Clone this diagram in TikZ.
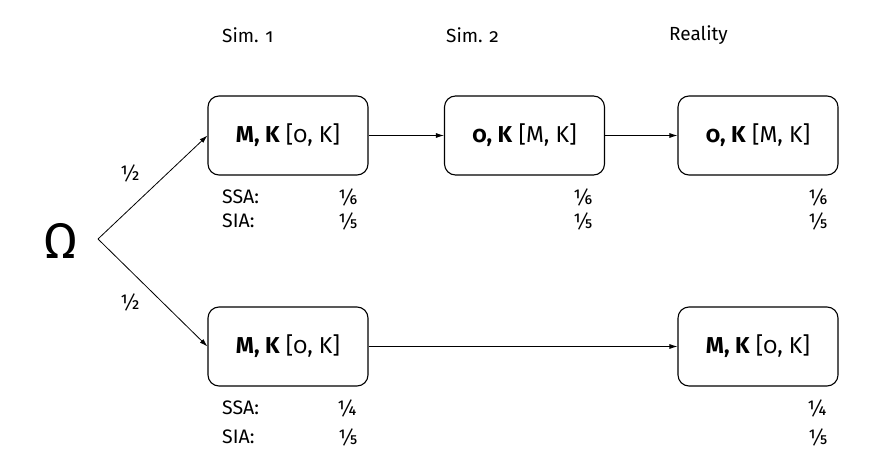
\documentclass[tikz,border=0pt]{standalone}
\usepackage{fontspec}
\setmainfont{Fira Sans}[Numbers=OldStyle]
\newfontfamily\fracfont{Fira Sans}[Fractions=On]
\usetikzlibrary{arrows.meta}
\tikzset{
  box/.style={draw, line width=1.1pt, rounded corners=11pt, minimum width=160pt, minimum height=79pt, font=\fontsize{23}{26}\selectfont, inner sep=0pt},
  lab/.style={font=\fontsize{19.5}{22}\selectfont, anchor=west, inner sep=0pt},
  frc/.style={font=\fracfont\fontsize{21}{24}\selectfont, inner sep=0pt},
  head/.style={font=\fontsize{19}{22}\selectfont, inner sep=0pt},
  conn/.style={line width=0.8pt, -{Latex[length=8pt,width=5pt]}},
}
\begin{document}
\begin{tikzpicture}[x=1pt,y=-1pt]
\useasboundingbox (0,0) rectangle (872,473);
% headers
\node[head, anchor=west] (h1) at (222,35) {Sim. 1};
\node[head, anchor=west] (h2) at (446,35) {Sim. 2};
\node[head, anchor=west] (h3) at (669,35) {Reality};
% omega
\node[inner sep=0pt, font=\fontsize{50}{54}\selectfont] (om) at (61,241) {Ω};
\coordinate (root) at (98,239);
% boxes
\node[box] (b1) at (288,135.5) {\textbf{M, K} [0, K]};
\node[box] (b2) at (524.5,135.5) {\textbf{0, K} [M, K]};
\node[box] (b3) at (758,135.5) {\textbf{0, K} [M, K]};
\node[box] (b4) at (288,346.5) {\textbf{M, K} [0, K]};
\node[box] (b5) at (758,346.5) {\textbf{M, K} [0, K]};
% connectors
\draw[conn] (root) -- (b1.west);
\draw[conn] (root) -- (b4.west);
\draw[conn] (b1) -- (b2);
\draw[conn] (b2) -- (b3);
\draw[conn] (b4) -- (b5);
\node[frc] (p1) at (130,173) {1/2};
\node[frc] (p2) at (130,302) {1/2};
% labels top
\node[lab] (ssa1) at (222,197) {SSA:};
\node[lab] (sia1) at (222,221) {SIA:};
\node[frc] (f11) at (348,197) {1/6};
\node[frc] (f12) at (348,221) {1/5};
\node[frc] (f21) at (583,197) {1/6};
\node[frc] (f22) at (583,221) {1/5};
\node[frc] (f31) at (818,197) {1/6};
\node[frc] (f32) at (818,221) {1/5};
% labels bottom
\node[lab] (ssa2) at (222,408) {SSA:};
\node[lab] (sia2) at (222,437) {SIA:};
\node[frc] (g11) at (347,408) {1/4};
\node[frc] (g12) at (348,437) {1/5};
\node[frc] (g31) at (817,408) {1/4};
\node[frc] (g32) at (818,437) {1/5};
\end{tikzpicture}
\end{document}
